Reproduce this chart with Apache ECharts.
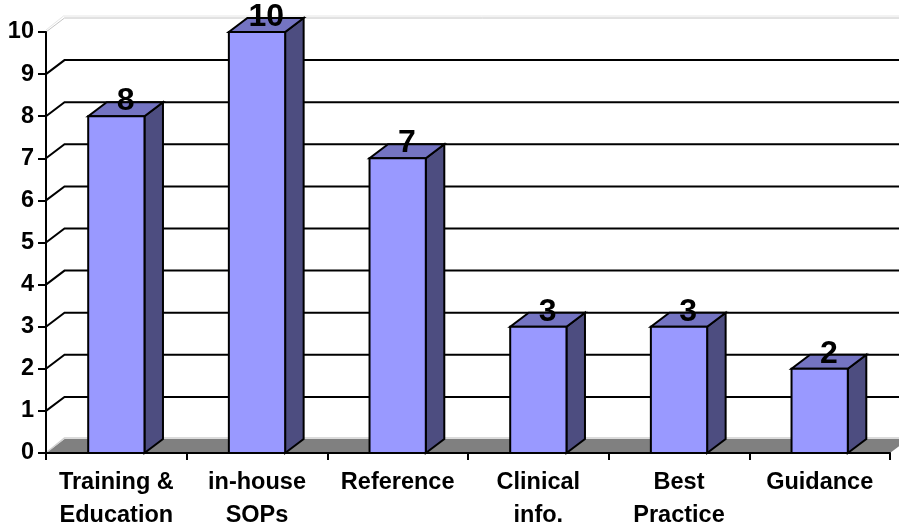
<!DOCTYPE html>
<html>
<head>
<meta charset="utf-8">
<script src="https://cdn.jsdelivr.net/npm/echarts@6/dist/echarts.min.js"></script>
<style>
html, body { margin: 0; padding: 0; background: #ffffff; }
#chart { width: 899px; height: 527px; }
</style>
</head>
<body>
<div id="chart"></div>
<script>
// Categories and counts shown by the columns
const categories = ['Training &\nEducation', 'in-house\nSOPs', 'Reference', 'Clinical\ninfo.', 'Best\nPractice', 'Guidance'];
const counts = [8, 10, 7, 3, 3, 2];
const yTicks = [0, 1, 2, 3, 4, 5, 6, 7, 8, 9, 10];

// Oblique depth offset used for the pseudo-3D walls and columns
const DX = 18.5;
const DY = -14;
const FONT = '"Liberation Sans", Arial, sans-serif';

const chart = echarts.init(document.getElementById('chart'), null, { renderer: 'canvas' });

// Back wall gridlines, left wall diagonals and the floor
function renderWalls(params, api) {
  const cs = params.coordSys;
  const v = api.value(1);
  const y = api.coord([0, v])[1];
  const x0 = cs.x;
  const x1 = cs.x + cs.width;
  const children = [];
  if (v === 0) {
    children.push({
      type: 'polygon',
      shape: { points: [[x0, y], [x1, y], [x1 + DX, y + DY], [x0 + DX, y + DY]] },
      style: { fill: '#808080', stroke: null }
    });
    children.push({
      type: 'polyline',
      shape: { points: [[x0 + 1, y - 1], [x0 + DX, y + DY - 1], [x1 + DX + 10, y + DY - 1]] },
      style: { stroke: '#d0d0d0', lineWidth: 1.5, fill: null }
    });
  } else if (v === yTicks[yTicks.length - 1]) {
    children.push({
      type: 'polyline',
      shape: { points: [[x0, y], [x0 + DX, y + DY], [x1 + DX + 10, y + DY]] },
      style: { stroke: '#c4c4c4', lineWidth: 1, fill: null }
    });
    children.push({
      type: 'polyline',
      shape: { points: [[x0, y - 2], [x0 + DX - 1, y + DY - 2], [x1 + DX + 10, y + DY - 2]] },
      style: { stroke: '#e6e6e6', lineWidth: 1, fill: null }
    });
  } else {
    children.push({
      type: 'polyline',
      shape: { points: [[x0, y], [x0 + DX, y + DY], [x1 + DX + 10, y + DY]] },
      style: { stroke: '#000000', lineWidth: 2, fill: null }
    });
  }
  return { type: 'group', children: children };
}

// Columns: front face, right side, top face and the value above each
function renderColumns(params, api) {
  const i = api.value(0);
  const v = api.value(1);
  const base = api.coord([i, 0]);
  const top = api.coord([i, v]);
  const bw = api.size([1, 0])[0] * 0.4;
  const xl = base[0] - bw / 2;
  const xr = xl + bw;
  const yt = top[1];
  const yb = base[1];
  const edge = { stroke: '#000000', lineWidth: 2, lineJoin: 'miter' };
  return {
    type: 'group',
    children: [
      {
        type: 'polygon',
        shape: { points: [[xr, yb], [xr + DX, yb + DY], [xr + DX, yt + DY], [xr, yt]] },
        style: Object.assign({ fill: '#4d4d80' }, edge)
      },
      {
        type: 'polygon',
        shape: { points: [[xl, yt], [xr, yt], [xr + DX, yt + DY], [xl + DX, yt + DY]] },
        style: Object.assign({ fill: '#7474c2' }, edge)
      },
      {
        type: 'rect',
        shape: { x: xl, y: yt, width: bw, height: yb - yt },
        style: Object.assign({ fill: '#9999ff' }, edge)
      },
      {
        type: 'text',
        x: (xl + xr) / 2 + DX / 2,
        y: yt - 15,
        style: {
          text: String(v),
          fontFamily: FONT,
          fontWeight: 'bold',
          fontSize: 32,
          fill: '#000000',
          align: 'center',
          verticalAlign: 'middle'
        }
      }
    ]
  };
}

const option = {
  animation: false,
  backgroundColor: '#ffffff',
  grid: { left: 46, right: 9, top: 32, bottom: 74, containLabel: false, outerBoundsMode: 'none' },
  xAxis: {
    type: 'category',
    data: categories,
    boundaryGap: true,
    z: 10,
    axisLine: { show: true, lineStyle: { color: '#000000', width: 2 } },
    axisTick: { show: true, length: 7, alignWithLabel: false, interval: 0, lineStyle: { color: '#000000', width: 2 } },
    axisLabel: {
      interval: 0,
      margin: 13,
      color: '#000000',
      fontFamily: FONT,
      fontWeight: 'bold',
      fontSize: 23.5,
      lineHeight: 33
    },
    splitLine: { show: false }
  },
  yAxis: {
    type: 'value',
    min: 0,
    max: 10,
    interval: 1,
    z: 10,
    axisLine: { show: true, lineStyle: { color: '#000000', width: 2 } },
    axisTick: { show: true, length: 8, lineStyle: { color: '#000000', width: 2 } },
    axisLabel: {
      margin: 12,
      color: '#000000',
      fontFamily: FONT,
      fontWeight: 'bold',
      fontSize: 23.5
    },
    splitLine: { show: false }
  },
  series: [
    {
      type: 'custom',
      name: 'walls',
      renderItem: renderWalls,
      clip: false,
      silent: true,
      z: 1,
      encode: { x: 0, y: 1 },
      data: yTicks.map(function (v) { return [0, v]; })
    },
    {
      type: 'custom',
      name: 'columns',
      renderItem: renderColumns,
      clip: false,
      z: 3,
      encode: { x: 0, y: 1 },
      data: counts.map(function (v, i) { return [i, v]; })
    }
  ]
};

chart.setOption(option);
</script>
</body>
</html>
